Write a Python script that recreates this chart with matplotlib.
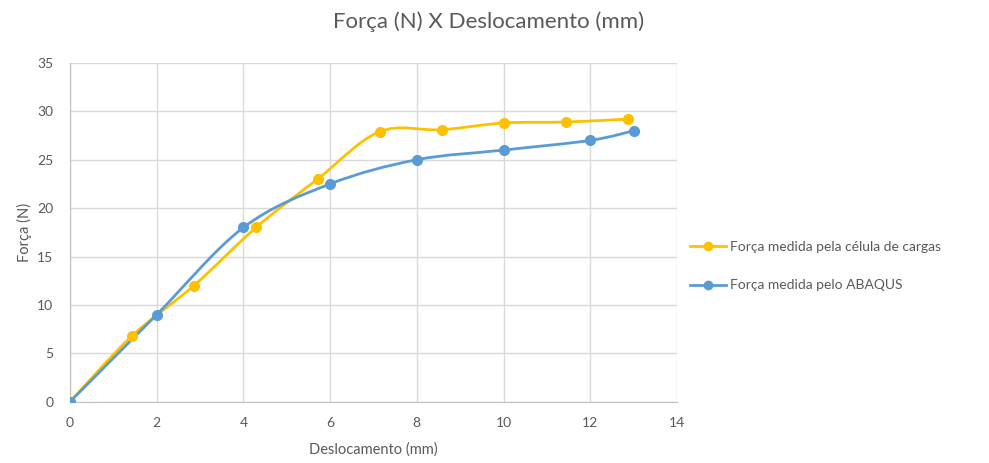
import numpy as np
import matplotlib.pyplot as plt
from matplotlib.path import Path
from matplotlib.patches import PathPatch
from matplotlib.lines import Line2D

plt.rcParams['font.family'] = ['Lato', 'DejaVu Sans']

# deslocamento (mm) e força (N)
x_celula = [0, 1.43, 2.86, 4.29, 5.71, 7.14, 8.57, 10.0, 11.43, 12.86]
y_celula = [0, 6.8, 12.0, 18.0, 23.0, 27.9, 28.1, 28.8, 28.9, 29.2]
x_abaqus = [0, 2, 4, 6, 8, 10, 12, 13]
y_abaqus = [0, 9, 18, 22.5, 25, 26, 27, 28]

nomes = ['Força medida pela célula de cargas', 'Força medida pelo ABAQUS']
cores = ['#FFC000', '#5B9BD5']
texto = '#595959'


def curva_suave(xs, ys):
    # bezier cúbica estilo catmull-rom passando pelos pontos
    p = np.column_stack([xs, ys]).astype(float)
    n = len(p)
    verts = [p[0]]
    codes = [Path.MOVETO]
    for i in range(n - 1):
        p0 = p[i - 1] if i > 0 else p[i]
        p3 = p[i + 2] if i + 2 < n else p[i + 1]
        c1 = p[i] + (p[i + 1] - p0) / 6
        c2 = p[i + 1] - (p3 - p[i]) / 6
        verts += [c1, c2, p[i + 1]]
        codes += [Path.CURVE4] * 3
    return Path(verts, codes)


fig = plt.figure(figsize=(9.89, 4.63), dpi=100)
ax = fig.add_axes([0.0708, 0.1324, 0.6137, 0.7316])

for xs, ys, c in [(x_celula, y_celula, cores[0]), (x_abaqus, y_abaqus, cores[1])]:
    ax.add_patch(PathPatch(curva_suave(xs, ys), fill=False, edgecolor=c, lw=2.0, zorder=3))
    ax.plot(xs, ys, 'o', color=c, ms=7, zorder=4)

ax.set_xlim(0, 14)
ax.set_ylim(0, 35)
ax.set_xticks(range(0, 15, 2))
ax.set_yticks(range(0, 36, 5))
ax.grid(True, color='#D9D9D9', lw=1)
ax.set_axisbelow(True)
for s in ['top', 'right']:
    ax.spines[s].set_visible(False)
for s in ['left', 'bottom']:
    ax.spines[s].set_color('#BFBFBF')
ax.tick_params(length=0, colors=texto, labelsize=10)
ax.tick_params(axis='x', pad=11)
ax.tick_params(axis='y', pad=12)

ax.set_xlabel('Deslocamento (mm)', color=texto, fontsize=10.5, labelpad=10)
ax.set_ylabel('Força (N)', color=texto, fontsize=10.5, labelpad=4)
fig.suptitle('Força (N) X Deslocamento (mm)', color=texto, fontsize=16, y=0.975, x=0.494)

handles = [Line2D([], [], color=c, lw=2, marker='o', ms=6) for c in cores]
fig.legend(handles, nomes, loc='center left', bbox_to_anchor=(0.685, 0.425),
           frameon=False, fontsize=10, labelcolor=texto, handlelength=2.6,
           handletextpad=0.3, labelspacing=1.9)

fig.savefig('out.png', dpi=100)
